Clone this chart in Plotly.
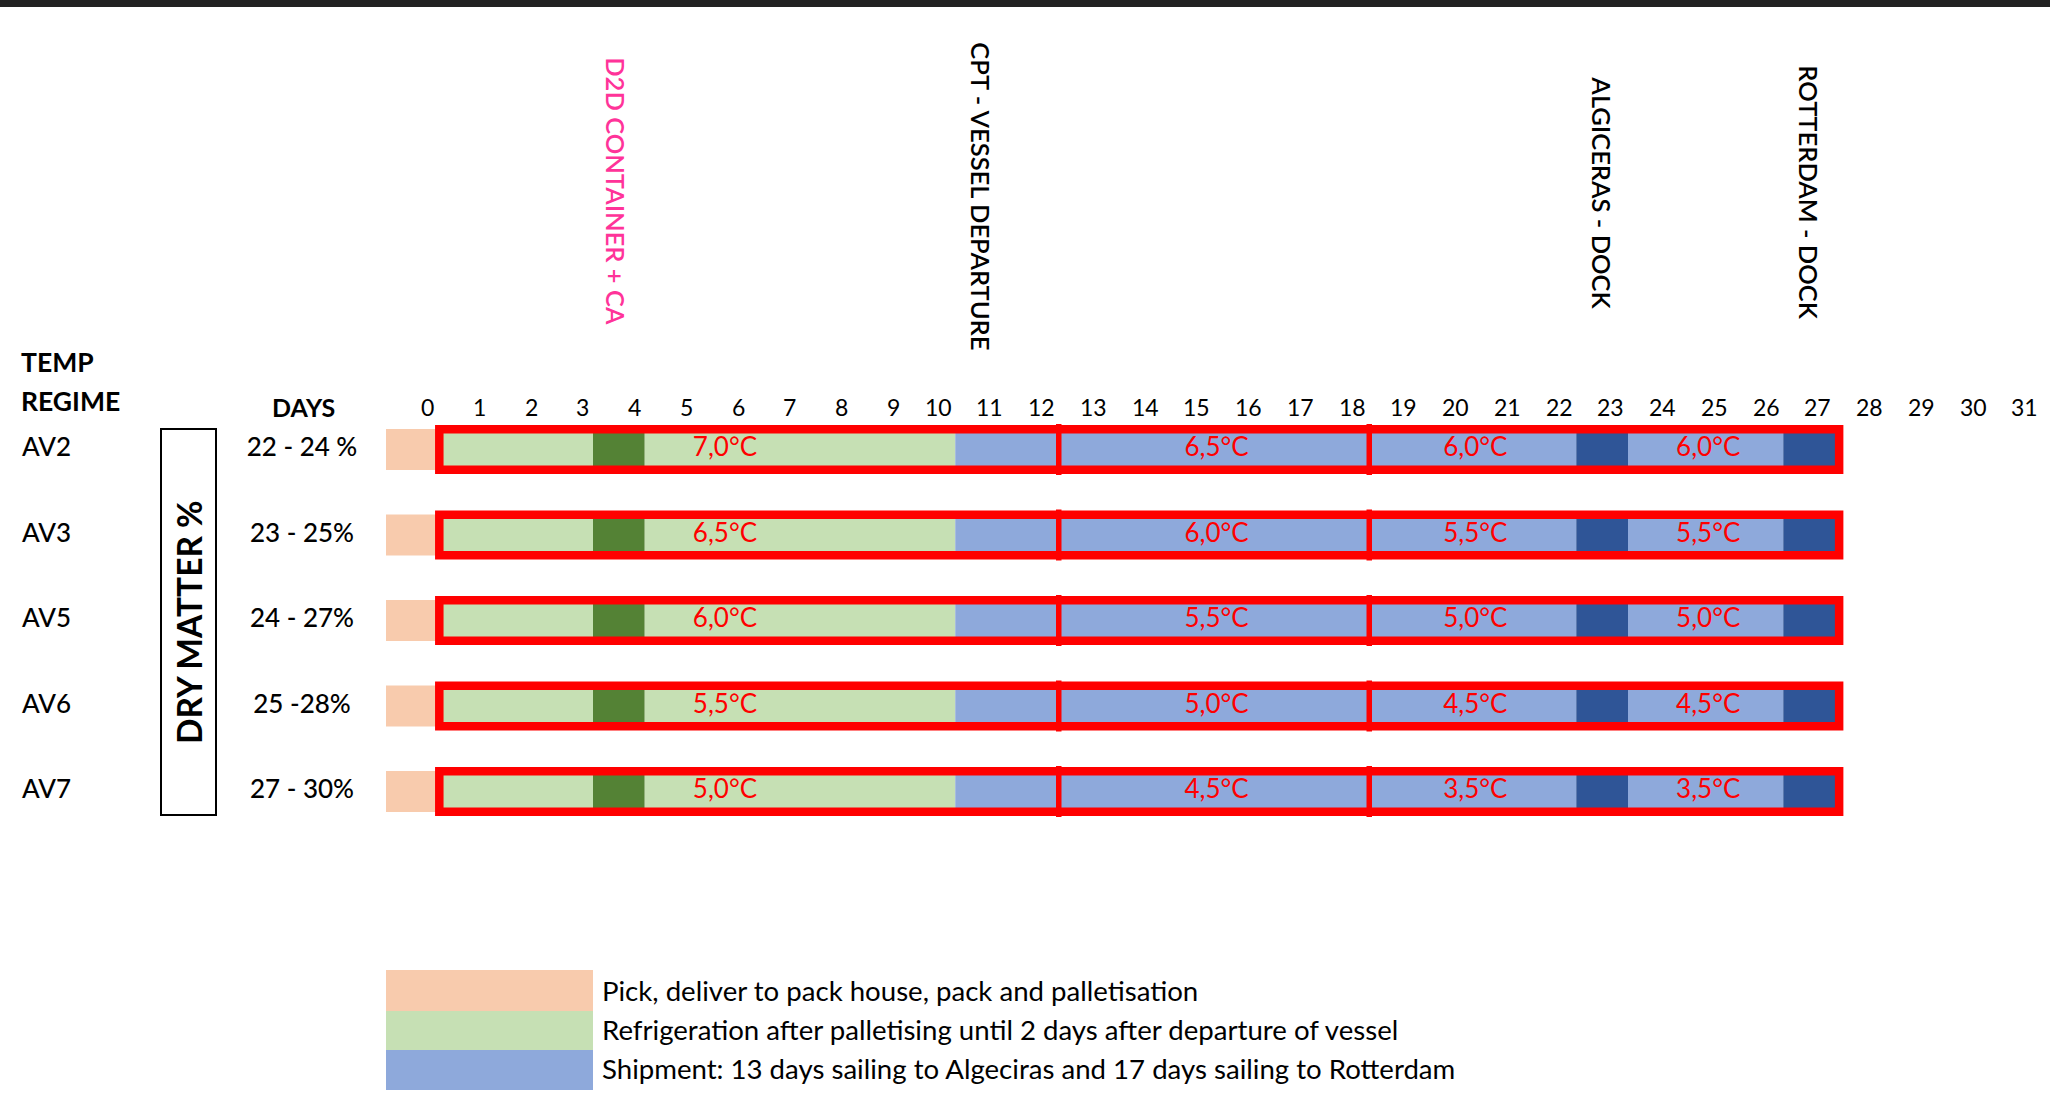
import plotly.graph_objects as go

W, H = 2050, 1102

# ---------------- data ----------------
rows = ["AV2", "AV3", "AV5", "AV6", "AV7"]
dry_matter = ["22 - 24 %", "23 - 25%", "24 - 27%", "25 -28%", "27 - 30%"]
day_ticks = list(range(0, 32))

# phase segments in days (first day, last day, kind)
pick_first, pick_last = 0, 0
seg_first = [1, 4, 5, 11, 23, 24, 27]
seg_last = [3, 4, 10, 22, 23, 26, 27]
seg_kind = ["refrig", "ca", "refrig", "ship", "dock", "ship", "dock"]

temp_zone_a = [7.0, 6.5, 6.0, 5.5, 5.0]
temp_zone_b = [6.5, 6.0, 5.5, 5.0, 4.5]
temp_zone_c = [6.0, 5.5, 5.0, 4.5, 3.5]
temp_zone_d = [6.0, 5.5, 5.0, 4.5, 3.5]
temp_label_day = [6.05, 15.55, 20.55, 25.05]
zone_dividers = [12.5, 18.5]
outline_span = [0.53, 27.58]

milestone_day = [3.95, 11.0, 23.0, 27.0]
milestone_text = ["D2D CONTAINER + CA", "CPT - VESSEL DEPARTURE",
                  "ALGICERAS - DOCK", "ROTTERDAM - DOCK"]

legend_text = ["Pick, deliver to pack house, pack and palletisation",
               "Refrigeration after palletising until 2 days after departure of vessel",
               "Shipment: 13 days sailing to Algeciras and 17 days sailing to Rotterdam"]

# ---------------- style ----------------
COL = {"pick": "#F8CBAD", "refrig": "#C6E0B4", "ca": "#548235",
       "ship": "#8EA9DB", "dock": "#2F5597"}
legend_kind = ["pick", "refrig", "ship"]
RED = "#FF0000"
PINK = "#FF3399"
FONT = "Lato, 'Open Sans', sans-serif"

# pixel layout helpers (cell 0 left edge at 386px, 51.75px per day; rows every 85.5px)
X0, CELL = 386.0, 51.75
Y0, ROW = 449.5, 85.5


def ux(px):
    return (px - X0) / CELL - 0.5


def uy(px):
    return (px - Y0) / ROW


fig = go.Figure()

# pick (peach) bar
fig.add_trace(go.Bar(orientation="h", y=rows, x=[pick_last - pick_first + 1] * len(rows),
                     base=[pick_first - 0.5] * len(rows), width=41 / ROW,
                     marker=dict(color=COL["pick"], line=dict(width=0)),
                     hoverinfo="skip", showlegend=False))
# phase segments
for f, l, k in zip(seg_first, seg_last, seg_kind):
    fig.add_trace(go.Bar(orientation="h", y=rows, x=[l - f + 1] * len(rows),
                         base=[f - 0.5] * len(rows), width=40 / ROW,
                         marker=dict(color=COL[k], line=dict(width=0)),
                         hoverinfo="skip", showlegend=False))


def fmt(v):
    return f"{v:.1f}".replace(".", ",") + "°C"


for d, zone in zip(temp_label_day, [temp_zone_a, temp_zone_b, temp_zone_c, temp_zone_d]):
    fig.add_trace(go.Scatter(x=[d] * len(rows), y=rows, mode="text",
                             text=[fmt(v) for v in zone],
                             textfont=dict(family=FONT, size=26, color=RED),
                             hoverinfo="skip", showlegend=False))

# row names and dry matter ranges
fig.add_trace(go.Scatter(x=[ux(22)] * len(rows), y=rows, mode="text", text=rows,
                         textposition="middle right",
                         textfont=dict(family=FONT, size=26, color="#000", weight=500),
                         hoverinfo="skip", showlegend=False))
fig.add_trace(go.Scatter(x=[ux(302)] * len(rows), y=rows, mode="text", text=dry_matter,
                         textposition="middle center",
                         textfont=dict(family=FONT, size=26, color="#000", weight=500),
                         hoverinfo="skip", showlegend=False))

shapes = []
# red outlines and zone dividers
h_out = 24.5 / ROW
lw = 8.5
for i in range(len(rows)):
    shapes.append(dict(type="rect", xref="x", yref="y",
                       x0=outline_span[0], x1=outline_span[1],
                       y0=i - h_out + (lw / 2) / ROW, y1=i + h_out - (lw / 2) / ROW,
                       line=dict(color=RED, width=lw), layer="above"))
    for dv in zone_dividers:
        shapes.append(dict(type="line", xref="x", yref="y", x0=dv, x1=dv,
                           y0=i - (h_out + 1 / ROW), y1=i + h_out + 1 / ROW,
                           line=dict(color=RED, width=5.5), layer="above"))

# dry matter box
shapes.append(dict(type="rect", xref="x", yref="y", x0=ux(161), x1=ux(216),
                   y0=uy(429), y1=uy(815), line=dict(color="#000", width=2)))

# legend swatches
sw_edges = [970, 1011, 1050, 1090]
for j, k in enumerate(legend_kind):
    shapes.append(dict(type="rect", xref="x", yref="y", x0=-0.5, x1=3.5,
                       y0=uy(sw_edges[j]), y1=uy(sw_edges[j + 1]),
                       fillcolor=COL[k], line=dict(width=0), layer="below"))

# top dark band
shapes.append(dict(type="rect", xref="paper", yref="paper", x0=0, x1=1,
                   y0=1 - 7 / H, y1=1, fillcolor="#222222", line=dict(width=0)))

annotations = []
# day numbers (right aligned in their cell)
for d in day_ticks:
    annotations.append(dict(x=d + 0.47, y=uy(407), xref="x", yref="y", text=str(d),
                            showarrow=False, xanchor="right", yanchor="middle",
                            font=dict(family=FONT, size=23, color="#000")))

# milestone labels (vertical)
ms_center = [191.5, 196.5, 192.5, 192.5]
ms_color = [PINK, "#000", "#000", "#000"]
for d, t, c, cy in zip(milestone_day, milestone_text, ms_color, ms_center):
    annotations.append(dict(x=d, y=uy(cy), xref="x", yref="y", text=t, textangle=90,
                            showarrow=False, xanchor="center", yanchor="middle",
                            font=dict(family=FONT, size=25.5, color=c, weight=600)))

annotations.append(dict(x=ux(19), y=uy(362), xref="x", yref="y", text="TEMP",
                        showarrow=False, xanchor="left", yanchor="middle",
                        font=dict(family=FONT, size=26.5, color="#000", weight="bold")))
annotations.append(dict(x=ux(19), y=uy(401), xref="x", yref="y", text="REGIME",
                        showarrow=False, xanchor="left", yanchor="middle",
                        font=dict(family=FONT, size=26.5, color="#000", weight="bold")))
annotations.append(dict(x=ux(303), y=uy(407), xref="x", yref="y", text="DAYS",
                        showarrow=False, xanchor="center", yanchor="middle",
                        font=dict(family=FONT, size=25, color="#000", weight="bold")))
annotations.append(dict(x=ux(189), y=uy(622), xref="x", yref="y", text="DRY MATTER %",
                        textangle=-90, showarrow=False, xanchor="center", yanchor="middle",
                        font=dict(family=FONT, size=33.5, color="#000", weight="bold")))

leg_y = [990, 1029, 1068]
for t, yy in zip(legend_text, leg_y):
    annotations.append(dict(x=ux(600), y=uy(yy), xref="x", yref="y", text=t,
                            showarrow=False, xanchor="left", yanchor="middle",
                            font=dict(family=FONT, size=27.6, color="#000")))

fig.update_layout(
    width=W, height=H, autosize=False,
    margin=dict(l=0, r=0, t=0, b=0, pad=0),
    paper_bgcolor="#FFFFFF", plot_bgcolor="#FFFFFF",
    barmode="overlay", showlegend=False,
    xaxis=dict(range=[ux(0), ux(W)], visible=False, fixedrange=True),
    yaxis=dict(type="category", categoryorder="array", categoryarray=rows,
               range=[uy(H), uy(0)], visible=False, fixedrange=True),
    shapes=shapes, annotations=annotations,
)

fig.write_html("out.html")
